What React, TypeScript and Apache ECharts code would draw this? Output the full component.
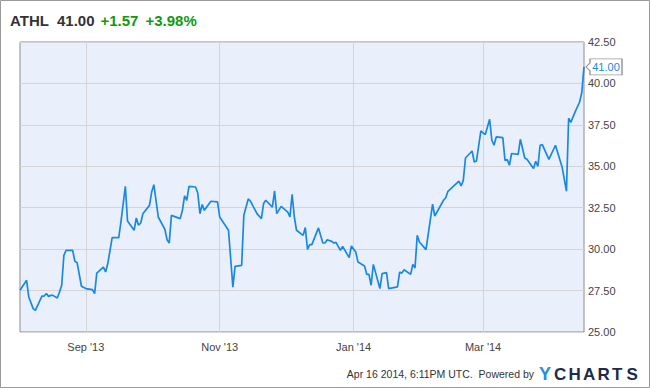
import React, { useEffect, useRef } from "react";
import * as echarts from "echarts";

// ---- Data ----
const dates: string[] = [
  "2013-08-02", "2013-08-05", "2013-08-06", "2013-08-08", "2013-08-09", "2013-08-12", "2013-08-13", "2013-08-14", "2013-08-15", "2013-08-16",
  "2013-08-17", "2013-08-19", "2013-08-20", "2013-08-21", "2013-08-22", "2013-08-23", "2013-08-26", "2013-08-27", "2013-08-28", "2013-08-30",
  "2013-09-01", "2013-09-04", "2013-09-05", "2013-09-06", "2013-09-09", "2013-09-10", "2013-09-11", "2013-09-13", "2013-09-16", "2013-09-17",
  "2013-09-19", "2013-09-20", "2013-09-23", "2013-09-24", "2013-09-25", "2013-09-26", "2013-09-27", "2013-09-30", "2013-10-01", "2013-10-02",
  "2013-10-04", "2013-10-07", "2013-10-08", "2013-10-09", "2013-10-10", "2013-10-14", "2013-10-15", "2013-10-16", "2013-10-17", "2013-10-18",
  "2013-10-21", "2013-10-22", "2013-10-23", "2013-10-24", "2013-10-25", "2013-10-28", "2013-10-31", "2013-11-01", "2013-11-05", "2013-11-07",
  "2013-11-08", "2013-11-11", "2013-11-12", "2013-11-14", "2013-11-15", "2013-11-18", "2013-11-20", "2013-11-21", "2013-11-22", "2013-11-25",
  "2013-11-26", "2013-11-27", "2013-11-29", "2013-12-02", "2013-12-03", "2013-12-04", "2013-12-05", "2013-12-06", "2013-12-09", "2013-12-10",
  "2013-12-11", "2013-12-12", "2013-12-13", "2013-12-16", "2013-12-18", "2013-12-19", "2013-12-20", "2013-12-22", "2013-12-23", "2013-12-24",
  "2013-12-26", "2013-12-27", "2013-12-30", "2013-12-31", "2014-01-02", "2014-01-03", "2014-01-06", "2014-01-07", "2014-01-08", "2014-01-09",
  "2014-01-10", "2014-01-13", "2014-01-14", "2014-01-16", "2014-01-17", "2014-01-21", "2014-01-22", "2014-01-23", "2014-01-24", "2014-01-27",
  "2014-01-28", "2014-01-29", "2014-01-30", "2014-01-31", "2014-02-03", "2014-02-06", "2014-02-07", "2014-02-11", "2014-02-12", "2014-02-13",
  "2014-02-18", "2014-02-19", "2014-02-20", "2014-02-21", "2014-02-24", "2014-02-25", "2014-02-26", "2014-02-28", "2014-03-02", "2014-03-04",
  "2014-03-05", "2014-03-06", "2014-03-07", "2014-03-10", "2014-03-11", "2014-03-12", "2014-03-13", "2014-03-14", "2014-03-17", "2014-03-18",
  "2014-03-20", "2014-03-21", "2014-03-24", "2014-03-25", "2014-03-26", "2014-03-27", "2014-03-28", "2014-03-31", "2014-04-03", "2014-04-06",
  "2014-04-08", "2014-04-09", "2014-04-10", "2014-04-12", "2014-04-14", "2014-04-15", "2014-04-16",
];

const prices: number[] = [
  27.52, 28.12, 27.11, 26.41, 26.31, 27.17, 27.17, 27.32, 27.15, 27.21,
  27.21, 27.05, 27.41, 27.82, 29.63, 29.93, 29.93, 29.26, 29.2, 27.76,
  27.62, 27.56, 27.32, 28.56, 28.92, 28.62, 29.13, 30.69, 30.69, 31.64,
  33.79, 31.7, 31.14, 31.88, 31.44, 31.58, 32.14, 32.64, 33.45, 33.89,
  31.94, 31.2, 30.57, 30.37, 32.04, 31.84, 32.34, 33.21, 32.95, 33.79,
  33.75, 33.39, 32.14, 32.69, 32.34, 32.89, 32.85, 31.94, 31.14, 27.71,
  28.96, 29.02, 32.04, 33.03, 32.9, 32.14, 31.84, 32.75, 32.95, 32.54,
  33.51, 32.14, 32.58, 32.24, 31.94, 33.31, 31.94, 31.14, 30.83, 31.3,
  29.99, 30.27, 30.27, 31.28, 30.37, 30.37, 30.57, 30.47, 30.37, 30.41,
  29.93, 30.17, 29.49, 30.19, 29.83, 29.22, 28.98, 28.48, 28.48, 27.82,
  29.08, 27.62, 28.52, 28.58, 27.62, 27.72, 28.62, 28.55, 28.76, 28.48,
  29.08, 28.86, 30.83, 30.43, 29.97, 32.71, 32.0, 32.95, 33.1, 33.49,
  34.11, 33.81, 34.15, 35.5, 35.92, 35.26, 35.32, 37.13, 36.91, 37.84,
  36.57, 36.27, 36.77, 36.73, 35.36, 35.4, 35.06, 35.77, 35.72, 36.63,
  35.5, 35.42, 34.86, 35.3, 35.0, 36.27, 36.31, 35.42, 36.27, 34.96,
  33.5, 37.9, 37.65, 38.3, 38.88, 39.45, 41.0,
];

const monthTickDates: string[] = ["2013-09-01", "2013-11-01", "2014-01-01", "2014-03-01"];
const monthNames: string[] = ["Jan", "Feb", "Mar", "Apr", "May", "Jun", "Jul", "Aug", "Sep", "Oct", "Nov", "Dec"];
const yMin = 25;
const yMax = 42.5;
const yStep = 2.5;

const ticker = "ATHL";
const lastPriceText = "41.00";
const changeText = "+1.57";
const changePctText = "+3.98%";
const footerText = "Apr 16 2014, 6:11PM UTC.  Powered by";
const logoLetters: string[] = ["C", "H", "A", "R", "T", "S"];

// ---- Helpers ----
function toTs(s: string): number {
  const [y, m, d] = s.split("-").map(Number);
  return new Date(y, m - 1, d).getTime();
}

function monthLabel(ts: number): string {
  const d = new Date(ts);
  return `${monthNames[d.getMonth()]} '${String(d.getFullYear()).slice(2)}`;
}

const FONT = '"Liberation Sans", Arial, Helvetica, sans-serif';

export default function App() {
  const ref = useRef<HTMLDivElement>(null);

  useEffect(() => {
    if (!ref.current) return;
    const chart = echarts.init(ref.current, undefined, { renderer: "svg" });

    const seriesData = prices.map((v, i) => [toTs(dates[i]), v]);
    const monthTs = monthTickDates.map(toTs);
    const lastIdx = prices.length - 1;

    const titleY = 20.5;
    const graphic: any[] = [
      {
        type: "rect",
        shape: { x: 0.5, y: 0.5, width: 649, height: 387 },
        style: { fill: "none", stroke: "#9a9a9a", lineWidth: 1 },
        silent: true,
        z: 100,
      },
      {
        type: "text", x: 10, y: titleY,
        style: { text: ticker, font: `bold 15px ${FONT}`, fill: "#333333", verticalAlign: "middle" },
      },
      {
        type: "text", x: 57, y: titleY,
        style: { text: lastPriceText, font: `bold 15px ${FONT}`, fill: "#333333", verticalAlign: "middle" },
      },
      {
        type: "text", x: 100.5, y: titleY,
        style: { text: changeText, font: `bold 15px ${FONT}`, fill: "#109a10", verticalAlign: "middle" },
      },
      {
        type: "text", x: 145.5, y: titleY,
        style: { text: changePctText, font: `bold 15px ${FONT}`, fill: "#109a10", verticalAlign: "middle" },
      },
      {
        type: "text", x: 534, y: 374,
        style: { text: footerText, font: `10.5px ${FONT}`, fill: "#333333", align: "right", verticalAlign: "middle" },
      },
      {
        type: "text", x: 539, y: 374,
        style: { text: "Y", font: `bold 18px ${FONT}`, fill: "#2a8ee0", verticalAlign: "middle" },
      },
      ...logoLetters.map((ch, i) => ({
        type: "text",
        x: 554 + i * 14.5,
        y: 374,
        style: { text: ch, font: `bold 17px ${FONT}`, fill: "#1d2a4d", verticalAlign: "middle" },
      })),
    ];

    chart.setOption({
      animation: false,
      textStyle: { fontFamily: FONT },
      grid: {
        left: 20,
        right: 66,
        top: 42,
        bottom: 56,
        show: true,
        backgroundColor: "#eaf0fb",
        borderColor: "#8a8a8a",
        borderWidth: 1,
      },
      xAxis: {
        type: "time",
        min: toTs(dates[0]),
        max: toTs(dates[lastIdx]),
        axisLine: { show: false },
        axisTick: { show: false },
        splitLine: { show: false },
        axisLabel: { show: false },
      },
      yAxis: {
        type: "value",
        position: "right",
        min: yMin,
        max: yMax,
        interval: yStep,
        axisLine: { show: false },
        axisTick: { show: false },
        axisLabel: {
          formatter: (v: number) => v.toFixed(2),
          color: "#444444",
          fontSize: 11,
          margin: 4,
          fontFamily: FONT,
        },
        splitLine: { lineStyle: { color: "#d4d4d4", width: 1 } },
      },
      series: [
        {
          type: "line",
          data: seriesData,
          showSymbol: false,
          symbol: "none",
          z: 3,
          lineStyle: { color: "#1a88e3", width: 1.7 },
          markLine: {
            silent: true,
            z: 1,
            symbol: ["none", "none"],
            label: {
              show: true,
              position: "start",
              distance: 9,
              color: "#444444",
              fontSize: 11,
              fontFamily: FONT,
              formatter: (p: any) => monthLabel(p.value),
            },
            lineStyle: { color: "#d4d4d4", type: "solid", width: 1 },
            data: monthTs.map((t) => ({ xAxis: t })),
          },
          markPoint: {
            silent: true,
            symbol: "path://M0,8 L4,4 L4,0 L36,0 L36,16 L4,16 L4,12 Z",
            symbolSize: [36, 16],
            symbolOffset: [20, 0],
            itemStyle: { color: "#ffffff", borderColor: "#999999", borderWidth: 1 },
            label: {
              show: true,
              position: "inside",
              offset: [2, 0],
              color: "#1a88e3",
              fontSize: 11,
              fontFamily: FONT,
              formatter: () => prices[lastIdx].toFixed(2),
            },
            data: [{ coord: [toTs(dates[lastIdx]), prices[lastIdx]] }],
          },
        },
      ],
      graphic,
    });

    return () => {
      chart.dispose();
    };
  }, []);

  return (
    <div
      ref={ref}
      style={{ position: "absolute", left: 0, top: 0, width: 650, height: 388, background: "#ffffff" }}
    />
  );
}
